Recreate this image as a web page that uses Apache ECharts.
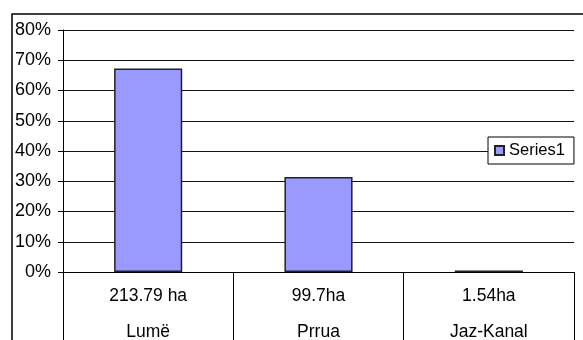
<!DOCTYPE html>
<html><head><meta charset="utf-8">
<script src="https://cdn.jsdelivr.net/npm/echarts@6/dist/echarts.min.js"></script>
<style>html,body{margin:0;padding:0;background:#fff}#c{width:583px;height:340px}</style>
</head><body><div id="c"></div>
<script>
const categories = ['Lumë', 'Prrua', 'Jaz-Kanal'];
const areaLabels = ['213.79 ha', '99.7ha', '1.54ha'];
const seriesName = 'Series1';
const values = [67.3, 31.4, 0.5];
const yMin = 0, yMax = 80, yStep = 10;

const FONT = 'Liberation Sans, Arial, sans-serif';
const chart = echarts.init(document.getElementById('c'), null, {renderer: 'canvas'});
chart.setOption({
  animation: false,
  backgroundColor: '#fff',
  textStyle: {fontFamily: FONT},
  graphic: [{
    type: 'rect', silent: true, z: 100,
    shape: {x: 12, y: 14, width: 700, height: 500},
    style: {fill: 'none', stroke: '#000', lineWidth: 1.5}
  }],
  grid: {left: 63, right: 9, top: 30, bottom: 68, containLabel: false, outerBoundsMode: 'none'},
  legend: {
    data: [seriesName], orient: 'vertical', left: 488, top: 137,
    padding: [5, 9, 5, 6], itemWidth: 9, itemHeight: 9,
    backgroundColor: '#fff', borderColor: '#000', borderWidth: 1,
    textStyle: {fontSize: 16.5, color: '#000', fontFamily: FONT},
    icon: 'rect', z: 10
  },
  xAxis: {
    type: 'category', data: categories, boundaryGap: true,
    axisLine: {show: true, lineStyle: {color: '#000', width: 1}},
    axisTick: {show: true, alignWithLabel: false, length: 80, lineStyle: {color: '#000', width: 1}},
    axisLabel: {
      margin: 6, color: '#000', fontSize: 17.5, fontFamily: FONT, lineHeight: 36,
      interval: 0, hideOverlap: false,
      formatter: (v, i) => areaLabels[i] + '\n' + v
    }
  },
  yAxis: {
    type: 'value', min: yMin, max: yMax, interval: yStep,
    axisLine: {show: true, lineStyle: {color: '#000', width: 1}},
    axisTick: {show: true, length: 5, lineStyle: {color: '#000'}},
    axisLabel: {margin: 12, color: '#000', fontSize: 18, fontFamily: FONT, formatter: '{value}%'},
    splitLine: {show: true, lineStyle: {color: '#111', width: 1}}
  },
  series: [{
    name: seriesName, type: 'bar', data: values, barWidth: '40%',
    itemStyle: {color: '#9999FF', borderColor: '#222', borderWidth: 1.5}
  }]
});
</script></body></html>
